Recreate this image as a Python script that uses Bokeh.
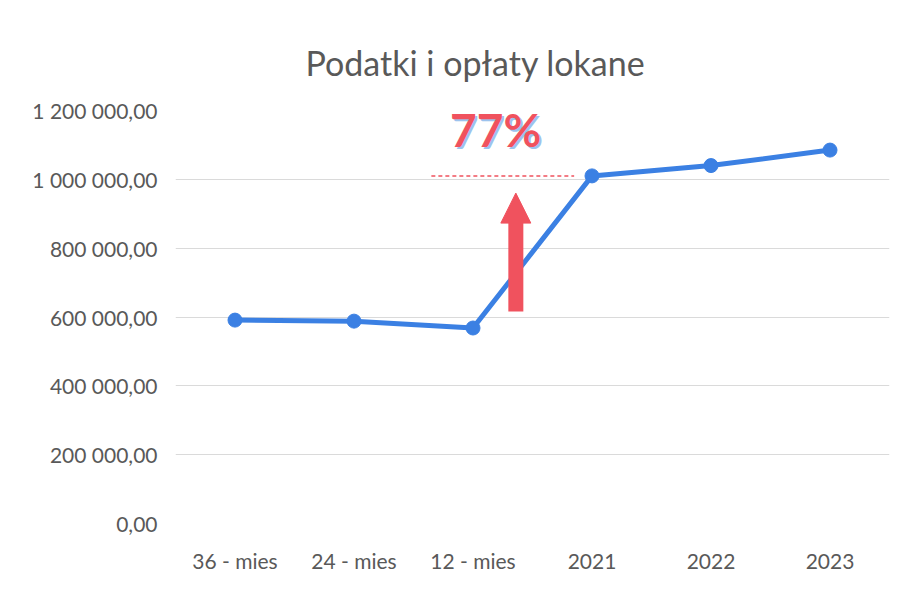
from bokeh.plotting import figure
from bokeh.models import FixedTicker, Arrow, NormalHead, ColumnDataSource
from bokeh.core.properties import value
from bokeh.embed import file_html
from bokeh.resources import INLINE

categories = ["36 - mies", "24 - mies", "12 - mies", "2021", "2022", "2023"]
values = [591000, 588000, 568000, 1010000, 1040000, 1085000]
y_ticks = [0, 200000, 400000, 600000, 800000, 1000000, 1200000]
y_tick_labels = ["0,00", "200 000,00", "400 000,00", "600 000,00", "800 000,00", "1 000 000,00", "1 200 000,00"]
title_text = "Podatki i opłaty lokane"
growth_label = "77%"

FONT = "Lato"
GREY = "#595959"
BLUE = "#3B80E3"
RED = "#F0525E"

p = figure(x_range=categories, y_range=(0, 1200000), width=890, height=575,
           output_backend="svg", toolbar_location=None,
           min_border_left=175, min_border_right=1, min_border_top=110, min_border_bottom=44)
p.x_range.range_padding = 0

p.title.text = title_text
p.title.text_font = FONT
p.title.text_font_size = "34px"
p.title.text_font_style = "normal"
p.title.text_color = GREY
p.title.align = "left"
p.title.offset = 130
p.title.standoff = 56

p.outline_line_color = None
p.background_fill_color = "white"
p.border_fill_color = "white"

p.yaxis.ticker = FixedTicker(ticks=y_ticks)
p.yaxis.major_label_overrides = {t: l for t, l in zip(y_ticks, y_tick_labels)}
for ax in (p.xaxis, p.yaxis):
    ax.axis_line_color = None
    ax.major_tick_line_color = None
    ax.minor_tick_line_color = None
    ax.major_label_text_font = FONT
    ax.major_label_text_font_size = "21px"
    ax.major_label_text_color = GREY
p.yaxis.major_label_standoff = 12
p.xaxis.major_label_standoff = 18

p.xgrid.grid_line_color = None
p.ygrid.grid_line_color = "#DADADA"
p.ygrid.grid_line_width = 1

src = ColumnDataSource(dict(x=categories, y=values))
p.line("x", "y", source=src, line_color=BLUE, line_width=5)
p.scatter("x", "y", source=src, size=14, fill_color=BLUE, line_color=BLUE)

# annotation: dashed reference line at the 2021 level, arrow and growth label
i12 = categories.index("12 - mies") + 0.5
i21 = categories.index("2021") + 0.5
ref = values[categories.index("2021")]
p.line([i12 - 0.35, i21 - 0.15], [ref, ref], line_color=RED, line_width=1.5, line_dash="4 3")

p.add_layout(Arrow(end=NormalHead(size=30, fill_color=RED, line_color=RED),
                   x_start=i12 + 0.36, y_start=616000, x_end=i12 + 0.36, y_end=960000,
                   line_color=RED, line_width=15))

lx = i12 + 0.19
ly = 1145000
p.text([lx], [ly], text=[growth_label], text_font=value(FONT), text_font_size="46px",
       text_font_style="bold", text_color="#9CC3EE", text_align="center",
       text_baseline="middle", x_offset=2, y_offset=2)
p.text([lx], [ly], text=[growth_label], text_font=value(FONT), text_font_size="46px",
       text_font_style="bold", text_color=RED, text_align="center",
       text_baseline="middle")

open("out.html", "w").write(file_html(p, INLINE))
